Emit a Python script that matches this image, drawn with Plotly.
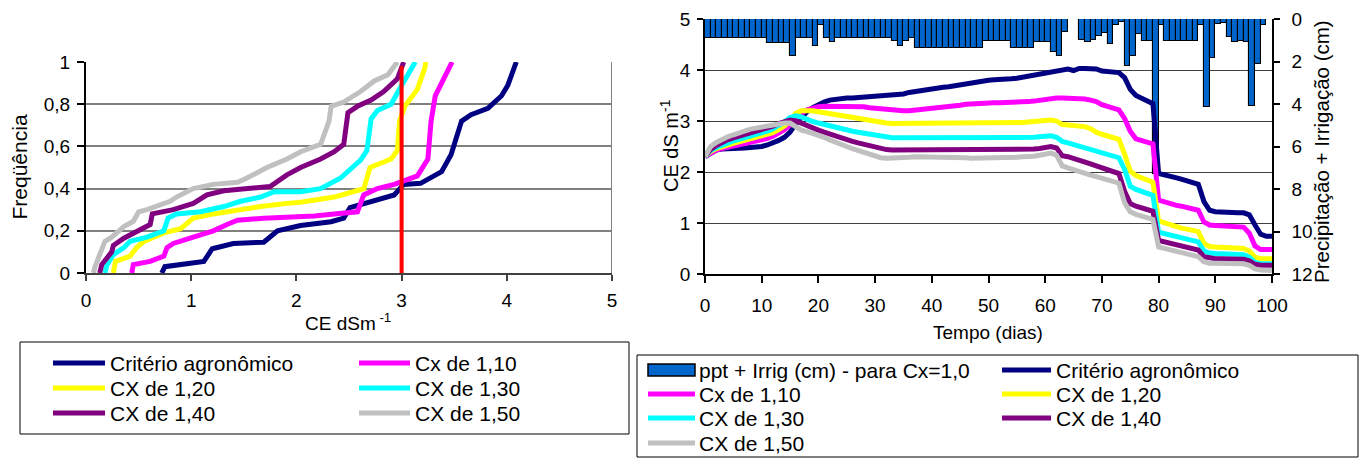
import plotly.graph_objects as go

W, H = 1370, 459

# ---------------- Right chart: daily CE series (days 0..100) ----------------
dias = list(range(101))

ce_agronomico = [
    2.30, 2.38, 2.43, 2.45, 2.45, 2.46, 2.47, 2.47, 2.48, 2.48,
    2.50, 2.53, 2.57, 2.62, 2.68, 2.78, 2.95, 3.08, 3.18, 3.26,
    3.32, 3.37, 3.41, 3.43, 3.44, 3.45, 3.45, 3.46, 3.47, 3.48,
    3.49, 3.50, 3.50, 3.51, 3.51, 3.53, 3.56, 3.58, 3.59, 3.60,
    3.62, 3.64, 3.66, 3.67, 3.69, 3.71, 3.73, 3.75, 3.78, 3.80,
    3.80, 3.81, 3.81, 3.82, 3.83, 3.84, 3.86, 3.88, 3.90, 3.92,
    3.95, 3.97, 3.99, 4.02, 4.02, 3.99, 4.03, 4.03, 4.03, 4.02,
    3.98, 3.97, 3.96, 3.95, 3.85, 3.62, 3.50, 3.44, 3.38, 3.34,
    1.97, 1.95, 1.92, 1.89, 1.86, 1.83, 1.80, 1.76, 1.42, 1.25,
    1.22, 1.21, 1.21, 1.20, 1.20, 1.20, 1.16, 0.96, 0.78, 0.74,
    0.74]

ce_cx110 = [
    2.30, 2.38, 2.43, 2.46, 2.49, 2.51, 2.54, 2.56, 2.58, 2.60,
    2.63, 2.66, 2.70, 2.76, 2.83, 2.92, 3.05, 3.15, 3.22, 3.26,
    3.28, 3.29, 3.29, 3.29, 3.29, 3.29, 3.28, 3.28, 3.28, 3.26,
    3.25, 3.23, 3.21, 3.20, 3.20, 3.20, 3.20, 3.21, 3.22, 3.23,
    3.24, 3.26, 3.28, 3.29, 3.30, 3.31, 3.33, 3.34, 3.35, 3.36,
    3.36, 3.36, 3.36, 3.36, 3.37, 3.37, 3.37, 3.38, 3.39, 3.41,
    3.43, 3.44, 3.45, 3.45, 3.45, 3.44, 3.44, 3.43, 3.41, 3.38,
    3.32, 3.28, 3.25, 3.22, 3.05, 2.80, 2.65, 2.61, 2.58, 2.55,
    1.45, 1.41, 1.38, 1.35, 1.33, 1.30, 1.28, 1.25, 1.02, 0.96,
    0.95, 0.94, 0.94, 0.93, 0.93, 0.92, 0.80, 0.55, 0.48, 0.48,
    0.48]

ce_cx120 = [
    2.30, 2.40, 2.46, 2.50, 2.53, 2.56, 2.59, 2.62, 2.64, 2.67,
    2.70, 2.73, 2.77, 2.83, 2.90, 3.00, 3.15, 3.20, 3.21, 3.20,
    3.18, 3.16, 3.14, 3.12, 3.10, 3.08, 3.06, 3.04, 3.02, 3.00,
    2.99, 2.97, 2.96, 2.95, 2.95, 2.95, 2.95, 2.95, 2.95, 2.95,
    2.95, 2.95, 2.95, 2.96, 2.96, 2.96, 2.96, 2.96, 2.96, 2.95,
    2.95, 2.96, 2.96, 2.96, 2.97, 2.97, 2.97, 2.98, 2.98, 3.00,
    3.01, 3.02, 3.00, 2.93, 2.92, 2.91, 2.90, 2.89, 2.85, 2.78,
    2.74, 2.71, 2.68, 2.64, 2.35, 2.02, 1.93, 1.88, 1.84, 1.80,
    1.04, 1.00, 0.97, 0.93, 0.90, 0.88, 0.86, 0.83, 0.60, 0.54,
    0.53, 0.52, 0.52, 0.51, 0.51, 0.50, 0.45, 0.33, 0.30, 0.30,
    0.30]

ce_cx130 = [
    2.30, 2.42, 2.48, 2.53, 2.57, 2.61, 2.64, 2.67, 2.70, 2.73,
    2.76, 2.80, 2.85, 2.91, 2.98, 3.07, 3.10, 3.08, 3.03, 2.99,
    2.96, 2.93, 2.90, 2.87, 2.84, 2.82, 2.80, 2.78, 2.76, 2.74,
    2.72, 2.70, 2.68, 2.67, 2.67, 2.67, 2.67, 2.67, 2.67, 2.67,
    2.68, 2.68, 2.68, 2.68, 2.68, 2.68, 2.68, 2.68, 2.67, 2.66,
    2.66, 2.66, 2.66, 2.66, 2.66, 2.66, 2.67, 2.67, 2.68, 2.69,
    2.70, 2.71, 2.68, 2.60, 2.57, 2.54, 2.50, 2.46, 2.43, 2.40,
    2.37, 2.35, 2.32, 2.28, 2.05, 1.72, 1.66, 1.62, 1.58, 1.54,
    0.82, 0.79, 0.76, 0.73, 0.70, 0.68, 0.66, 0.63, 0.45, 0.41,
    0.40, 0.40, 0.39, 0.39, 0.38, 0.38, 0.33, 0.23, 0.20, 0.20,
    0.20]

ce_cx140 = [
    2.30, 2.44, 2.52, 2.58, 2.63, 2.67, 2.70, 2.73, 2.76, 2.79,
    2.82, 2.86, 2.90, 2.95, 2.99, 3.02, 3.00, 2.95, 2.90, 2.86,
    2.82, 2.78, 2.74, 2.70, 2.66, 2.63, 2.60, 2.57, 2.54, 2.51,
    2.48, 2.46, 2.44, 2.43, 2.43, 2.43, 2.43, 2.43, 2.43, 2.43,
    2.43, 2.43, 2.43, 2.43, 2.43, 2.43, 2.43, 2.43, 2.43, 2.43,
    2.43, 2.43, 2.43, 2.43, 2.43, 2.43, 2.43, 2.44, 2.45, 2.46,
    2.48, 2.50, 2.47, 2.32, 2.30, 2.27, 2.24, 2.20, 2.16, 2.12,
    2.08, 2.04, 2.01, 1.97, 1.62, 1.38, 1.33, 1.29, 1.26, 1.23,
    0.66, 0.63, 0.60, 0.57, 0.54, 0.52, 0.50, 0.47, 0.34, 0.31,
    0.30, 0.30, 0.30, 0.29, 0.29, 0.29, 0.26, 0.19, 0.17, 0.17,
    0.17]

ce_cx150 = [
    2.30, 2.50, 2.58, 2.64, 2.69, 2.73, 2.77, 2.81, 2.84, 2.86,
    2.88, 2.90, 2.92, 2.95, 2.96, 2.96, 2.88, 2.82, 2.79, 2.76,
    2.72, 2.68, 2.63, 2.58, 2.54, 2.50, 2.46, 2.42, 2.38, 2.34,
    2.31, 2.28, 2.27, 2.27, 2.27, 2.28, 2.29, 2.30, 2.30, 2.30,
    2.30, 2.30, 2.29, 2.28, 2.28, 2.28, 2.28, 2.27, 2.27, 2.27,
    2.27, 2.27, 2.28, 2.28, 2.29, 2.29, 2.30, 2.30, 2.31, 2.33,
    2.35, 2.37, 2.33, 2.12, 2.08, 2.04, 2.00, 1.97, 1.94, 1.91,
    1.88, 1.85, 1.82, 1.78, 1.40, 1.22, 1.17, 1.13, 1.10, 1.07,
    0.53, 0.50, 0.47, 0.44, 0.41, 0.39, 0.37, 0.34, 0.24, 0.21,
    0.21, 0.21, 0.20, 0.20, 0.20, 0.20, 0.17, 0.10, 0.08, 0.07,
    0.07]

# precipitation + irrigation (cm) for each day 0..99 (bar centred in the day)
dias_barras = [d + 0.5 for d in range(100)]
ppt_irrig = [
    0.90, 0.90, 0.90, 0.90, 0.90, 0.90, 0.90, 0.90, 0.90, 0.90,
    0.90, 1.15, 1.15, 1.15, 1.15, 1.72, 0.90, 0.90, 0.90, 1.25,
    0.28, 0.90, 1.10, 0.90, 0.90, 0.90, 0.90, 0.90, 0.90, 0.90,
    0.90, 0.90, 0.90, 1.05, 1.25, 1.05, 0.90, 1.37, 1.37, 1.37,
    1.37, 1.37, 1.37, 1.37, 1.37, 1.37, 1.37, 1.37, 1.37, 1.05,
    1.05, 1.05, 1.05, 1.05, 1.37, 1.37, 1.37, 1.37, 1.10, 1.10,
    1.10, 1.57, 1.73, 0.63, 0.00, 0.00, 0.97, 1.10, 0.97, 0.78,
    0.66, 1.18, 0.28, 0.16, 2.20, 1.75, 0.70, 1.05, 1.05, 7.30,
    0.30, 1.05, 1.05, 1.05, 1.05, 1.05, 1.05, 0.30, 4.15, 1.85,
    0.25, 0.20, 0.86, 1.10, 1.05, 1.10, 4.08, 2.10, 0.30, 0.00]

# ---------------- Left chart: cumulative frequency of CE ----------------
fq_agron_ce = [0.72, 0.75, 1.12, 1.20, 1.40, 1.69, 1.82, 2.04, 2.33, 2.45, 2.51,
               2.74, 2.93, 3.02, 3.18, 3.38, 3.47, 3.57, 3.66, 3.82, 3.95, 4.01, 4.09]
fq_agron_f = [0.00, 0.03, 0.055, 0.115, 0.14, 0.146, 0.20, 0.225, 0.243, 0.26, 0.31,
              0.34, 0.37, 0.42, 0.425, 0.48, 0.56, 0.72, 0.75, 0.78, 0.84, 0.89, 1.00]

fq_cx110_ce = [0.435, 0.45, 0.61, 0.74, 0.77, 0.83, 1.02, 1.21, 1.34, 1.44, 1.69,
               2.17, 2.36, 2.58, 2.64, 2.77, 2.93, 3.15, 3.25, 3.28, 3.32, 3.40, 3.48]
fq_cx110_f = [0.00, 0.04, 0.055, 0.08, 0.12, 0.14, 0.17, 0.20, 0.23, 0.25, 0.26,
              0.27, 0.28, 0.29, 0.37, 0.40, 0.42, 0.46, 0.54, 0.72, 0.84, 0.92, 1.00]

fq_cx120_ce = [0.26, 0.28, 0.42, 0.48, 0.55, 0.74, 0.90, 1.02, 1.21, 1.44, 1.66,
               1.91, 2.04, 2.36, 2.52, 2.64, 2.70, 2.90, 2.96, 2.98, 3.03, 3.15, 3.22, 3.23]
fq_cx120_f = [0.00, 0.055, 0.08, 0.12, 0.15, 0.19, 0.21, 0.26, 0.28, 0.30, 0.315,
              0.33, 0.335, 0.36, 0.38, 0.40, 0.50, 0.54, 0.58, 0.72, 0.79, 0.87, 0.97, 1.00]

fq_cx130_ce = [0.18, 0.20, 0.26, 0.36, 0.42, 0.58, 0.74, 0.78, 0.86, 1.09, 1.31, 1.47,
               1.66, 1.79, 2.04, 2.23, 2.42, 2.61, 2.67, 2.71, 2.77, 2.90, 2.99, 3.09, 3.13]
fq_cx130_f = [0.00, 0.04, 0.087, 0.12, 0.15, 0.17, 0.20, 0.26, 0.28, 0.29, 0.315, 0.34,
              0.36, 0.385, 0.385, 0.40, 0.45, 0.535, 0.58, 0.73, 0.77, 0.80, 0.88, 0.96, 1.00]

fq_cx140_ce = [0.13, 0.15, 0.245, 0.26, 0.36, 0.51, 0.61, 0.63, 0.83, 1.02, 1.15, 1.31,
               1.53, 1.75, 1.91, 2.04, 2.23, 2.36, 2.45, 2.49, 2.58, 2.71, 2.83, 2.96, 3.02]
fq_cx140_f = [0.00, 0.04, 0.10, 0.13, 0.165, 0.205, 0.23, 0.28, 0.30, 0.33, 0.37, 0.39,
              0.40, 0.41, 0.465, 0.50, 0.54, 0.575, 0.61, 0.76, 0.79, 0.82, 0.86, 0.92, 1.00]

fq_cx150_ce = [0.07, 0.086, 0.13, 0.18, 0.245, 0.36, 0.45, 0.50, 0.58, 0.80, 0.86, 1.02,
               1.21, 1.44, 1.53, 1.72, 1.91, 2.04, 2.23, 2.31, 2.33, 2.45, 2.61, 2.74, 2.87, 2.96]
fq_cx150_f = [0.00, 0.03, 0.087, 0.15, 0.17, 0.22, 0.245, 0.29, 0.30, 0.34, 0.36, 0.40,
              0.42, 0.43, 0.45, 0.50, 0.54, 0.575, 0.61, 0.72, 0.79, 0.81, 0.86, 0.91, 0.94, 1.00]

limite_ce = [3.0, 3.0]
limite_f = [0.0, 0.98]

nomes = ["Critério agronômico", "Cx de 1,10", "CX de 1,20", "CX de 1,30", "CX de 1,40", "CX de 1,50"]
cores = ["#000080", "#FF00FF", "#FFFF00", "#00FFFF", "#800080", "#C0C0C0"]
nome_barras = "ppt + Irrig (cm) - para Cx=1,0"

freq_ce = [fq_agron_ce, fq_cx110_ce, fq_cx120_ce, fq_cx130_ce, fq_cx140_ce, fq_cx150_ce]
freq_f = [fq_agron_f, fq_cx110_f, fq_cx120_f, fq_cx130_f, fq_cx140_f, fq_cx150_f]
series_ce = [ce_agronomico, ce_cx110, ce_cx120, ce_cx130, ce_cx140, ce_cx150]

FONT = "Liberation Sans, Arial, sans-serif"

fig = go.Figure()

# left chart curves
for nm, col, xs, ys in zip(nomes, cores, freq_ce, freq_f):
    fig.add_trace(go.Scatter(x=xs, y=ys, mode="lines", name=nm,
                             line=dict(color=col, width=5),
                             xaxis="x", yaxis="y", showlegend=False))
fig.add_trace(go.Scatter(x=limite_ce, y=limite_f, mode="lines", name="limite",
                         line=dict(color="#FF0000", width=4),
                         xaxis="x", yaxis="y", showlegend=False))

# right chart bars (base axis, precipitation)
fig.add_trace(go.Bar(x=dias_barras, y=ppt_irrig, name=nome_barras, width=1.0,
                     marker=dict(color="#0066CC", line=dict(color="black", width=1.1)),
                     xaxis="x2", yaxis="y2", showlegend=False))
# right chart lines (overlay axis, CE)
for nm, col, ys in zip(nomes, cores, series_ce):
    fig.add_trace(go.Scatter(x=dias, y=ys, mode="lines", name=nm,
                             line=dict(color=col, width=5),
                             xaxis="x2", yaxis="y3", showlegend=False))


def px(x):
    return x / W


def py(y):
    return 1 - y / H


ann = []


def txt(x, y, s, size, angle=0, xanchor="center"):
    ann.append(dict(x=px(x), y=py(y), xref="paper", yref="paper", text=s,
                    showarrow=False, font=dict(size=size, family=FONT, color="black"),
                    textangle=angle, xanchor=xanchor, yanchor="middle"))


# axis titles
txt(18.5, 167, "Freqüência", 21, -90)
txt(348, 322, "CE dSm<sup> -1</sup>", 19)
txt(988, 332, "Tempo (dias)", 19)
txt(669, 146, "CE dS m<sup>-1</sup>", 20, -90)
txt(1321, 152, "Precipitação + Irrigação (cm)", 20.5, -90)

shapes = []
# left plot area border (right side)
shapes.append(dict(type="line", xref="x", yref="y", x0=5, x1=5, y0=0, y1=1,
                   line=dict(color="#808080", width=2)))

# ---- manual legends ----
LEG_FS = 21
# left legend box
shapes.append(dict(type="rect", xref="paper", yref="paper", x0=px(20), x1=px(629),
                   y0=py(434), y1=py(342), line=dict(color="black", width=1)))
left_pos = [(53, 105, 108, 363), (359, 410, 413, 363),
            (53, 105, 108, 388), (359, 410, 413, 388),
            (53, 105, 108, 413), (359, 410, 413, 413)]
for (a, b, t, yy), nm, col in zip(left_pos, nomes, cores):
    shapes.append(dict(type="line", xref="paper", yref="paper", x0=px(a), x1=px(b),
                       y0=py(yy), y1=py(yy), line=dict(color=col, width=5)))
    txt(t, yy, nm, LEG_FS, xanchor="left")

# right legend box
shapes.append(dict(type="rect", xref="paper", yref="paper", x0=px(637), x1=px(1358),
                   y0=py(457), y1=py(355), line=dict(color="black", width=1)))
shapes.append(dict(type="rect", xref="paper", yref="paper", x0=px(648), x1=px(695),
                   y0=py(376), y1=py(364), fillcolor="#0066CC",
                   line=dict(color="black", width=1.5)))
txt(697, 370, nome_barras, LEG_FS, xanchor="left")
right_order = [(0, 1002, 1051, 1054, 370), (1, 648, 695, 697, 394),
               (2, 1002, 1051, 1054, 394), (3, 648, 695, 697, 418),
               (4, 1002, 1051, 1054, 418), (5, 648, 695, 697, 443)]
for i, a, b, t, yy in right_order:
    shapes.append(dict(type="line", xref="paper", yref="paper", x0=px(a), x1=px(b),
                       y0=py(yy), y1=py(yy), line=dict(color=cores[i], width=5)))
    txt(t, yy, nomes[i], LEG_FS, xanchor="left")

tickfont = dict(size=19, family=FONT, color="black")

fig.update_layout(
    width=W, height=H, autosize=False,
    margin=dict(l=0, r=0, t=0, b=0),
    paper_bgcolor="white", plot_bgcolor="rgba(0,0,0,0)",
    separators=",.",
    font=dict(family=FONT, size=19, color="black"),
    showlegend=False,
    bargap=0,
    xaxis=dict(domain=[px(86), px(612)], range=[0, 5], dtick=1, tick0=0,
               ticks="outside", ticklen=6, tickwidth=1.5, tickcolor="#404040",
               showline=True, linecolor="#404040", linewidth=2,
               showgrid=False, zeroline=False, anchor="y", automargin=False,
               tickfont=tickfont, ticklabelstandoff=3),
    yaxis=dict(domain=[py(273), py(62)], range=[0, 1], dtick=0.2, tick0=0,
               ticks="outside", ticklen=7, tickwidth=1.5, tickcolor="black",
               showline=True, linecolor="black", linewidth=2,
               showgrid=True, gridcolor="#808080", gridwidth=2,
               zeroline=False, anchor="x", automargin=False,
               tickfont=tickfont, ticklabelstandoff=3),
    xaxis2=dict(domain=[px(705), px(1272)], range=[0, 100], dtick=10, tick0=0,
                ticks="outside", ticklen=7, tickwidth=1.5, tickcolor="black",
                showline=True, linecolor="black", linewidth=1.5,
                showgrid=False, zeroline=False, anchor="y2", automargin=False,
                tickfont=tickfont, ticklabelstandoff=6),
    yaxis2=dict(domain=[py(274), py(19)], range=[12, 0], dtick=2, tick0=0,
                side="right", anchor="x2",
                ticks="outside", ticklen=6, tickwidth=1.5, tickcolor="black",
                showline=True, linecolor="black", linewidth=1.5,
                showgrid=False, zeroline=False, automargin=False,
                tickfont=tickfont, ticklabelstandoff=8),
    yaxis3=dict(overlaying="y2", side="left", anchor="x2", range=[0, 5], dtick=1, tick0=0,
                ticks="outside", ticklen=6, tickwidth=1.5, tickcolor="black",
                showline=True, linecolor="black", linewidth=1.5,
                showgrid=True, gridcolor="#404040", gridwidth=1,
                zeroline=False, automargin=False,
                tickfont=tickfont, ticklabelstandoff=3),
    annotations=ann,
    shapes=shapes,
)

fig.write_html("out.html",
               config={"displayModeBar": False},
               post_script="document.body.style.margin='0px';document.body.style.overflow='hidden';")
